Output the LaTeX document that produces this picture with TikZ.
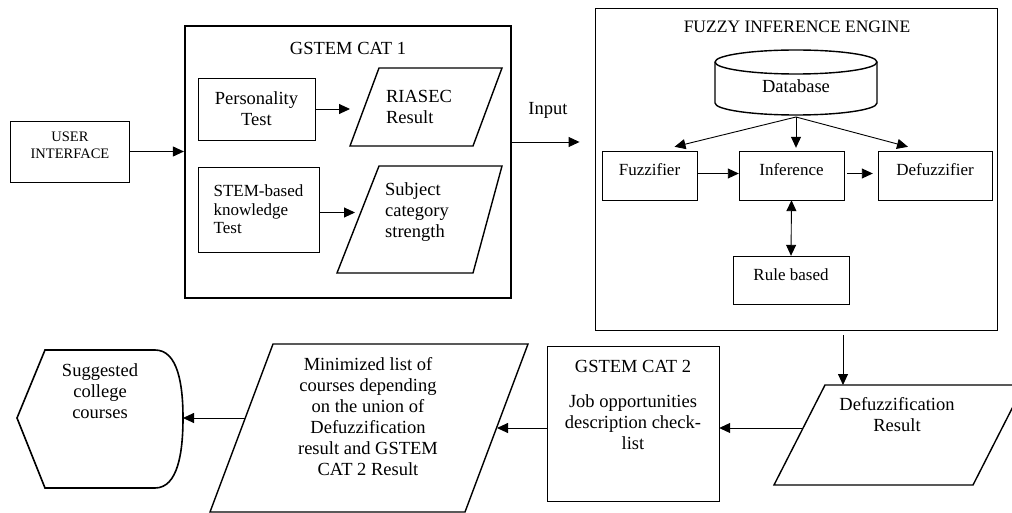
\documentclass[tikz,border=0pt]{standalone}
\usepackage{fontspec}
\setmainfont{Liberation Serif}
\usetikzlibrary{arrows.meta}
\tikzset{
  box/.style={draw,rectangle,inner sep=2pt},
  fbox/.style={box,font=\fontsize{17}{20}\selectfont,text height=12pt,text depth=12pt},
  para/.style={draw,line width=1.4pt},
  txt/.style={font=\fontsize{18.5}{21}\selectfont,align=center},
  arr/.style={-{Triangle[length=11pt,width=10pt]},line width=0.9pt},
  arrb/.style={{Triangle[length=11pt,width=10pt]}-{Triangle[length=11pt,width=10pt]},line width=0.9pt},
}
\begin{document}
\begin{tikzpicture}[x=1pt,y=-1pt]
\clip (0,0) rectangle (1012,513);
\node[box,minimum width=119pt,minimum height=61pt] (ui) at (69.5,151.5) {};
\node[font=\fontsize{14.5}{16.7}\selectfont,align=center] (uitxt) at (70,145) {USER\\INTERFACE};

\node[box,line width=2.2pt,minimum width=326pt,minimum height=272pt] (cat1) at (348,162) {};
\node[txt] (cat1txt) at (348,48) {GSTEM CAT 1};
\node[box,txt,minimum width=117pt,minimum height=62pt] (pers) at (256.5,109) {Personality\\Test};
\node[box,font=\fontsize{17}{18.5}\selectfont,align=left,minimum width=121pt,minimum height=85pt] (stem) at (258.5,209.5) {STEM-based\\knowledge\\Test};
\draw[para] (350,146) -- (379,68) -- (502,68) -- (473,146) -- cycle;
\coordinate (riasec) at (350,109);
\node[txt,align=left] (riasectxt) at (419,107) {RIASEC\\Result};
\draw[para] (337,273) -- (379,166) -- (502,166) -- (473,273) -- cycle;
\coordinate (subj) at (358,213);
\node[txt,align=left] (subjtxt) at (417,212) {Subject\\category\\strength};

\node[box,line width=0.9pt,minimum width=402pt,minimum height=322pt] (fie) at (796,169) {};
\node[font=\fontsize{17.5}{21}\selectfont] (fietxt) at (797,27) {FUZZY INFERENCE ENGINE};
\draw[line width=1.4pt] (715,62) -- (715,103) arc[start angle=180,end angle=360,x radius=81pt,y radius=12pt] -- (877,62) arc[start angle=0,end angle=180,x radius=81pt,y radius=12pt] -- cycle;
\draw[line width=1.4pt] (715,62) arc[start angle=180,end angle=360,x radius=81pt,y radius=12pt];
\node[txt] (db) at (796,86) {Database};
\coordinate (dbbot) at (796,117);
\node[fbox,minimum width=95pt,minimum height=49pt] (fuz) at (649.5,175.5) {Fuzzifier};
\node[fbox,minimum width=105pt,minimum height=49pt] (inf) at (791.5,175.5) {Inference};
\node[fbox,minimum width=114pt,minimum height=49pt] (defz) at (935,175.5) {Defuzzifier};
\node[fbox,minimum width=116pt,minimum height=48pt] (rule) at (791,280) {Rule based};

\draw[para] (774,485) -- (825,385) -- (1024,385) -- (973,485) -- cycle;
\coordinate (defrtop) at (843,385);
\coordinate (defr) at (803,428);
\node[txt] (defrtxt) at (897,415) {Defuzzification\\Result};
\node[box,minimum width=172pt,minimum height=155pt] (cat2) at (633,423.5) {};
\node[txt] (cat2txt) at (633,405) {GSTEM CAT 2\\[14pt]Job opportunities\\description check-\\list};
\draw[para] (210,512) -- (273,344) -- (528,344) -- (465,512) -- cycle;
\coordinate (minle) at (497,428);
\coordinate (minlw) at (245,418);
\node[txt] (minltxt) at (368,417) {Minimized list of\\courses depending\\on the union of\\Defuzzification\\result and GSTEM\\CAT 2 Result};
\draw[line width=1.6pt] (17,418) -- (45,350) -- (155,350) .. controls (178,350) and (183,385) .. (183,418) .. controls (183,452) and (178,488) .. (155,488) -- (45,488) -- cycle;
\coordinate (sug) at (183,418);
\node[txt] (sugtxt) at (100,391) {Suggested\\college\\courses};

\draw[arr] (ui.east) -- (ui.east -| cat1.west);
\draw[arr] (pers.east) -- (pers.east -| riasec);
\draw[arr,shorten >=3pt] ([yshift=-3pt]stem.east) -- ([yshift=-3pt]stem.east -| subj);
\draw[arr,shorten >=15pt] ([yshift=20pt]cat1.east) -- ([yshift=20pt]cat1.east -| fie.west);
\node[txt] (inp) at (548,110) {Input};
\draw[arr] (dbbot) -- ([xshift=25pt,yshift=4pt]fuz.north);
\draw[arr,shorten >=3pt] (dbbot) -- (dbbot |- inf.north);
\draw[arr] (dbbot) -- ([xshift=-27pt,yshift=4pt]defz.north);
\draw[arr] ([yshift=2pt]fuz.east) -- ([yshift=2pt]fuz.east -| inf.west);
\draw[arr,shorten <=3pt,shorten >=5pt] ([yshift=2pt]inf.east) -- ([yshift=2pt]inf.east -| defz.west);
\draw[arrb] (inf.south) -- (rule.north);
\draw[arr] ([yshift=-5pt]fie.south -| defrtop) -- (defrtop);
\draw[arr] (defr) -- (defr -| cat2.east);
\draw[arr] (cat2.west |- minle) -- (minle);
\draw[arr] (minlw) -- (sug);
\end{tikzpicture}
\end{document}
